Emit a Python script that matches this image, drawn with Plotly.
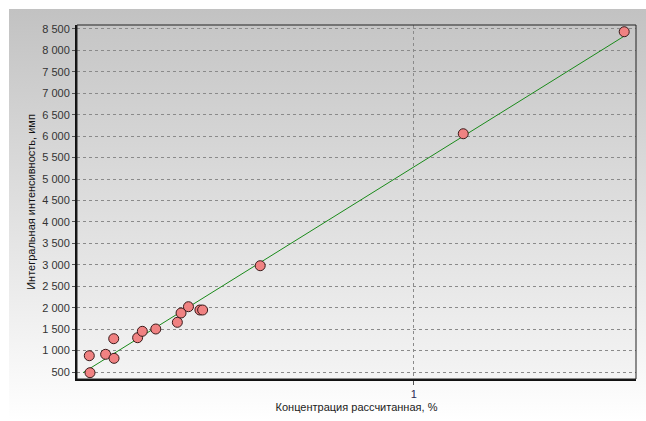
import base64
import numpy as np
import plotly.graph_objects as go

# Calibration points: calculated concentration (%) vs integral intensity (counts)
conc = [0.0386, 0.0365, 0.085, 0.110, 0.109, 0.180, 0.194, 0.234, 0.298,
        0.309, 0.331, 0.365, 0.373, 0.544, 1.147, 1.625]
intensity = [484, 880, 913, 819, 1277, 1300, 1449, 1503, 1659,
             1876, 2023, 1946, 1946, 2979, 6057, 8436]

y_ticks = list(range(500, 8501, 500))
x_ticks = [1]

# Linear calibration fit
slope, intercept = np.polyfit(conc, intensity, 1)
fit_x = [(min(intensity) - intercept) / slope, max(conc)]
fit_y = [slope * v + intercept for v in fit_x]


def gradient_svg(top, bottom):
    svg = (
        '<svg xmlns="http://www.w3.org/2000/svg" width="100" height="100" '
        'preserveAspectRatio="none">'
        '<defs><linearGradient id="g" x1="0" y1="0" x2="0" y2="1">'
        f'<stop offset="0" stop-color="{top}"/>'
        f'<stop offset="1" stop-color="{bottom}"/>'
        '</linearGradient></defs>'
        '<rect width="100" height="100" fill="url(#g)"/></svg>'
    )
    return "data:image/svg+xml;base64," + base64.b64encode(svg.encode()).decode()


W, H = 646, 421
ML, MR, MT, MB = 77, 10, 25, 42
PW, PH = W - ML - MR, H - MT - MB

fig = go.Figure()

fig.add_trace(go.Scatter(
    x=fit_x, y=fit_y, mode="lines",
    line=dict(color="#1a8a1a", width=1),
    hoverinfo="skip", showlegend=False,
))
fig.add_trace(go.Scatter(
    x=conc, y=intensity, mode="markers",
    marker=dict(size=10, color="#f08282",
                line=dict(color="#3a1a1a", width=1)),
    showlegend=False,
))

font = "Liberation Sans, Arial, sans-serif"

fig.update_layout(
    width=W, height=H,
    margin=dict(l=ML, r=MR, t=MT, b=MB, pad=0),
    paper_bgcolor="white",
    plot_bgcolor="rgba(0,0,0,0)",
    separators=", ",
    font=dict(family=font, size=11, color="#333333"),
    images=[
        # outer panel gradient
        dict(source=gradient_svg("#c2c2c2", "#ffffff"),
             xref="paper", yref="paper",
             x=(9 - ML) / PW, y=1 + (MT - 9) / PH,
             sizex=(W - 9) / PW, sizey=(H - 9) / PH,
             xanchor="left", yanchor="top", sizing="stretch", layer="below"),
        # plot area gradient
        dict(source=gradient_svg("#c6c6c6", "#f4f4f4"),
             xref="paper", yref="paper", x=0, y=1, sizex=1, sizey=1,
             xanchor="left", yanchor="top", sizing="stretch", layer="below"),
    ],
    shapes=[
        dict(type="rect", xref="paper", yref="paper", x0=0, y0=0, x1=1, y1=1,
             line=dict(color="#222222", width=1), layer="above"),
    ],
    xaxis=dict(
        range=[0, 1.66],
        tickvals=x_ticks, ticktext=[str(v) for v in x_ticks],
        tickfont=dict(color="#2a2a55", size=11),
        ticks="outside", ticklen=4, tickcolor="#555555",
        showgrid=True, gridcolor="#8a8a8a", griddash="3px,3px", gridwidth=1,
        zeroline=False,
        showline=True, linecolor="#111111", linewidth=2,
        title=dict(text="Концентрация рассчитанная, %", standoff=4,
                   font=dict(size=11, color="#222222")),
    ),
    yaxis=dict(
        range=[337, 8593],
        tickvals=y_ticks, tickformat=",d",
        ticks="outside", ticklen=3, tickcolor="#555555",
        showgrid=True, gridcolor="#8a8a8a", griddash="3px,3px", gridwidth=1,
        zeroline=False,
        showline=True, linecolor="#111111", linewidth=2,
        title=dict(text="Интегральная интенсивность, имп", standoff=4,
                   font=dict(size=11, color="#111111")),
    ),
)

fig.write_html("out.html")
